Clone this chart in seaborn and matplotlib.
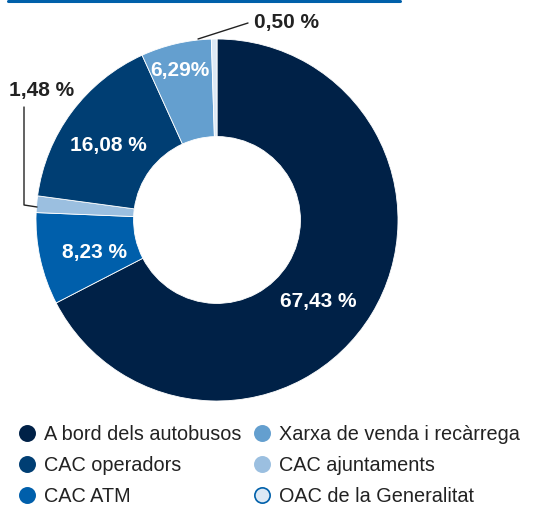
import matplotlib
matplotlib.use("Agg")
import matplotlib.pyplot as plt
from matplotlib.lines import Line2D
import seaborn as sns

# Data (clockwise from 12 o'clock)
categories = ["A bord dels autobusos", "CAC ATM", "CAC ajuntaments",
              "CAC operadors", "Xarxa de venda i recàrrega", "OAC de la Generalitat"]
values = [67.43, 8.23, 1.48, 16.08, 6.29, 0.50]
labels = ["67,43 %", "8,23 %", "1,48 %", "16,08 %", "6,29%", "0,50 %"]
colors = ["#002147", "#005fab", "#9bbfe0", "#003e73", "#649fcf", "#dde9f5"]

legend_order = ["A bord dels autobusos", "CAC operadors", "CAC ATM",
                "Xarxa de venda i recàrrega", "CAC ajuntaments", "OAC de la Generalitat"]

sns.set_theme(style="white")
plt.rcParams["font.family"] = ["Liberation Sans", "DejaVu Sans"]

W, H = 558, 508
fig = plt.figure(figsize=(W / 100, H / 100), dpi=100)

cx, cy, R = 217, 220, 181
ax = fig.add_axes([(cx - R) / W, 1 - (cy + R) / H, 2 * R / W, 2 * R / H])
ax.pie(values, colors=colors, startangle=90, counterclock=False, radius=1,
       wedgeprops=dict(width=0.539, edgecolor="white", linewidth=0.6))
ax.set_xlim(-1, 1)
ax.set_ylim(-1, 1)
ax.set_aspect("equal")
ax.axis("off")

def px(x, y):
    return (x - cx) / R, (cy - y) / R

lab_pos = {
    "67,43 %": (318, 301, "white", "center"),
    "8,23 %": (95, 252, "white", "center"),
    "16,08 %": (108, 145, "white", "center"),
    "6,29%": (180, 70, "white", "center"),
    "1,48 %": (42, 90, "#222222", "center"),
    "0,50 %": (254, 22, "#222222", "left"),
}
for lab in labels:
    x, y, c, ha = lab_pos[lab]
    dx, dy = px(x, y)
    ax.text(dx, dy, lab, color=c, ha=ha, va="center", fontsize=15, fontweight="bold")

# leader lines
p = [px(24, 107), px(24, 205), px(37, 207)]
ax.add_line(Line2D([q[0] for q in p], [q[1] for q in p], color="#222222", lw=1.0, clip_on=False))
p = [px(198, 39), px(248, 23)]
ax.add_line(Line2D([q[0] for q in p], [q[1] for q in p], color="#222222", lw=1.0, clip_on=False))

# top rule
fig.add_artist(Line2D([8 / W, 400 / W], [1 - 1.2 / H, 1 - 1.2 / H], color="#0060aa", lw=2.2))

# legend
cmap = dict(zip(categories, colors))
handles = []
for name in legend_order:
    ec = "#0060aa" if name == "OAC de la Generalitat" else cmap[name]
    handles.append(Line2D([], [], marker="o", linestyle="none", markersize=11,
                          markerfacecolor=cmap[name], markeredgecolor=ec, markeredgewidth=1.2))
fig.legend(handles, legend_order, ncol=2, loc="upper left",
           bbox_to_anchor=(19 / W, 1 - 425 / H), frameon=False, fontsize=14.3,
           handlelength=0.8, handletextpad=0.45, columnspacing=0.65, labelspacing=0.6,
           labelcolor="#222222", borderaxespad=0, borderpad=0)

fig.savefig("out.png", dpi=100)
